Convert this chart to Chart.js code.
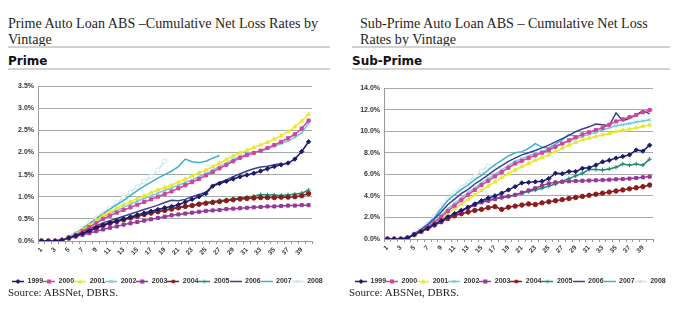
<!DOCTYPE html>
<html><head><meta charset="utf-8">
<script src="https://cdn.jsdelivr.net/npm/chart.js@4"></script>
<style>
html,body{margin:0;padding:0;background:#fff;}
body{width:684px;height:324px;position:relative;overflow:hidden;}
.t{position:absolute;top:15px;font-family:"Liberation Serif","Times New Roman",serif;font-size:14.1px;line-height:16px;color:#1e1e1e;white-space:nowrap;}
.rule{position:absolute;height:2px;background:#d2d2d2;}
.sub{position:absolute;top:54px;font-family:"DejaVu Sans",sans-serif;font-weight:bold;font-size:12px;line-height:14px;color:#111;}
.src{position:absolute;top:286px;font-family:"Liberation Serif",serif;font-size:11px;line-height:12px;color:#222;white-space:nowrap;}
.cv{position:absolute;top:76px;width:340px;height:219px;}
</style></head>
<body>
<div class="t" style="left:8px">Prime Auto Loan ABS –Cumulative Net Loss Rates by<br>Vintage</div>
<div class="t" style="left:360px">Sub-Prime Auto Loan ABS – Cumulative Net Loss<br>Rates by Vintage</div>
<div class="rule" style="left:8px;width:322px;top:46px"></div>
<div class="rule" style="left:352px;width:318px;top:46px"></div>
<div class="sub" style="left:8px">Prime</div>
<div class="sub" style="left:352px">Sub-Prime</div>
<div class="rule" style="left:8px;width:322px;top:68px"></div>
<div class="rule" style="left:352px;width:318px;top:68px"></div>
<canvas id="c1" class="cv" style="left:0px" width="340" height="219"></canvas>
<canvas id="c2" class="cv" style="left:342px" width="340" height="219"></canvas>
<div class="src" style="left:8px">Source: ABSNet, DBRS.</div>
<div class="src" style="left:349px">Source: ABSNet, DBRS.</div>
<script>
// ---- categories / labels ----
const months = ['1','2','3','4','5','6','7','8','9','10','11','12','13','14','15','16','17','18','19','20',
  '21','22','23','24','25','26','27','28','29','30','31','32','33','34','35','36','37','38','39','40'];
const xTickLabels = ['1','3','5','7','9','11','13','15','17','19','21','23','25','27','29','31','33','35','37','39'];
const vintages = ['1999','2000','2001','2002','2003','2004','2005','2006','2007','2008'];

// ---- Prime series (% cumulative net loss) ----
const prime1999 = [0,0,0,0.02,0.07,0.12,0.17,0.23,0.30,0.36,0.41,0.45,0.50,0.54,0.59,0.63,0.67,0.71,0.75,0.78,0.82,0.88,0.94,1.00,1.07,1.24,1.30,1.35,1.40,1.45,1.49,1.53,1.58,1.63,1.68,1.72,1.76,1.85,2.02,2.24];
const prime2000 = [0,0,0,0.02,0.07,0.14,0.22,0.31,0.40,0.50,0.57,0.64,0.70,0.76,0.82,0.88,0.94,1.00,1.06,1.12,1.19,1.26,1.33,1.40,1.48,1.56,1.64,1.72,1.80,1.88,1.94,1.99,2.04,2.10,2.17,2.24,2.32,2.41,2.54,2.72];
const prime2001 = [0,0,0,0.02,0.08,0.16,0.25,0.35,0.46,0.57,0.66,0.74,0.82,0.89,0.96,1.02,1.09,1.15,1.21,1.26,1.33,1.40,1.47,1.54,1.60,1.68,1.76,1.84,1.92,1.99,2.05,2.11,2.17,2.23,2.30,2.38,2.47,2.58,2.71,2.86];
const prime2002 = [0,0,0,0.02,0.08,0.15,0.24,0.34,0.44,0.55,0.62,0.69,0.76,0.83,0.90,0.96,1.02,1.08,1.14,1.20,1.26,1.32,1.38,1.45,1.52,1.60,1.68,1.76,1.84,1.91,1.96,2.00,2.04,2.08,2.14,2.20,2.26,2.34,2.44,2.66];
const prime2003 = [0,0,0,0.02,0.06,0.10,0.14,0.18,0.22,0.26,0.30,0.33,0.37,0.40,0.43,0.46,0.49,0.52,0.55,0.58,0.60,0.62,0.64,0.66,0.68,0.69,0.70,0.72,0.73,0.74,0.75,0.76,0.77,0.78,0.78,0.79,0.80,0.80,0.81,0.81];
const prime2004 = [0,0,0,0.02,0.07,0.12,0.17,0.23,0.29,0.35,0.40,0.44,0.48,0.52,0.56,0.60,0.63,0.66,0.69,0.72,0.75,0.78,0.80,0.83,0.85,0.87,0.89,0.91,0.93,0.95,0.96,0.97,0.98,0.98,0.98,0.99,0.99,1.00,1.02,1.07];
const prime2005 = [0,0,0,0.02,0.07,0.12,0.17,0.23,0.29,0.35,0.40,0.44,0.48,0.52,0.56,0.60,0.63,0.67,0.70,0.74,0.76,0.79,0.81,0.84,0.87,0.89,0.91,0.93,0.95,0.97,0.99,1.01,1.05,1.04,1.04,1.03,1.04,1.06,1.08,1.15];
const prime2006 = [0,0,0,0.02,0.08,0.14,0.20,0.27,0.34,0.41,0.46,0.51,0.56,0.61,0.66,0.71,0.76,0.81,0.87,0.92,0.91,0.94,1.00,1.05,1.10,1.25,1.32,1.38,1.45,1.52,1.58,1.63,1.67,1.69,1.72,1.75];
const prime2007 = [0,0,0,0.02,0.09,0.18,0.28,0.39,0.50,0.62,0.72,0.82,0.92,1.03,1.14,1.24,1.33,1.42,1.50,1.58,1.68,1.85,1.79,1.77,1.80,1.87,1.93];
const prime2008 = [0,0,0,0.02,0.09,0.18,0.28,0.39,0.51,0.63,0.74,0.86,0.98,1.10,1.22,1.34,1.46,1.60,1.80];

// ---- Sub-Prime series (% cumulative net loss) ----
const sub1999 = [0,0,0,0.1,0.4,0.7,1.0,1.35,1.7,2.05,2.35,2.65,2.95,3.25,3.55,3.8,4.0,4.25,4.55,4.85,5.2,5.25,5.3,5.35,5.6,6.1,6.05,6.25,6.25,6.55,6.6,6.85,7.15,7.3,7.5,7.65,7.8,8.25,8.15,8.7];
const sub2000 = [0,0,0,0.1,0.4,0.7,1.1,1.55,2.05,2.6,3.1,3.6,4.1,4.55,5.0,5.4,5.8,6.2,6.6,7.0,7.25,7.5,7.75,8.0,8.25,8.55,8.85,9.15,9.45,9.7,9.9,10.1,10.3,10.6,10.9,11.1,11.3,11.5,11.75,11.95];
const sub2001 = [0,0,0,0.1,0.35,0.65,1.0,1.4,1.9,2.4,2.8,3.2,3.65,4.1,4.5,4.9,5.3,5.7,6.05,6.4,6.7,7.0,7.3,7.55,7.8,8.1,8.4,8.7,8.95,9.2,9.35,9.5,9.65,9.8,9.95,10.1,10.2,10.3,10.45,10.57];
const sub2002 = [0,0,0,0.1,0.4,0.75,1.15,1.6,2.2,2.8,3.3,3.8,4.3,4.75,5.2,5.6,6.0,6.4,6.8,7.2,7.45,7.7,7.9,8.1,8.35,8.6,8.85,9.05,9.3,9.5,9.7,9.9,10.1,10.3,10.5,10.6,10.7,10.85,10.95,11.05];
const sub2003 = [0,0,0,0.1,0.4,0.7,1.0,1.3,1.65,2.0,2.3,2.6,2.9,3.15,3.4,3.55,3.7,3.85,3.95,4.08,4.3,4.5,4.7,4.95,5.15,5.25,5.3,5.35,5.38,5.4,5.42,5.44,5.46,5.5,5.53,5.56,5.6,5.65,5.72,5.78];
const sub2004 = [0,0,0,0.1,0.4,0.7,1.0,1.3,1.6,1.9,2.15,2.35,2.5,2.65,2.75,2.9,3.0,2.75,2.95,3.05,3.15,3.25,3.2,3.35,3.45,3.55,3.65,3.75,3.85,3.95,4.05,4.15,4.25,4.35,4.45,4.55,4.65,4.75,4.85,5.0];
const sub2005 = [0,0,0,0.1,0.4,0.7,1.0,1.3,1.65,2.0,2.3,2.6,2.9,3.2,3.45,3.6,3.75,3.85,3.95,4.1,4.25,4.4,4.55,4.7,4.9,5.1,5.35,5.6,5.85,6.1,6.45,6.45,6.4,6.5,6.65,6.95,6.85,6.95,6.85,7.4];
const sub2006 = [0,0,0,0.1,0.45,0.85,1.3,1.85,2.5,3.2,3.7,4.2,4.6,5.1,5.5,5.95,6.4,6.8,7.2,7.5,7.8,8.0,8.2,8.45,8.7,9.0,9.3,9.6,9.95,10.2,10.4,10.65,10.6,10.5,11.7,10.95,11.2,11.5,11.9,11.6];
const sub2007 = [0,0,0,0.1,0.5,0.9,1.4,2.0,2.8,3.6,4.1,4.6,5.0,5.5,5.9,6.4,6.9,7.3,7.7,8.0,8.1,8.4,8.85,8.5,8.45,8.8,9.2,9.7,9.5];
const sub2008 = [0,0,0,0.1,0.5,0.9,1.4,2.1,2.9,3.7,4.3,4.8,5.3,5.8,6.3,6.75];

const primeSeries = [prime1999,prime2000,prime2001,prime2002,prime2003,prime2004,prime2005,prime2006,prime2007,prime2008];
const subSeries = [sub1999,sub2000,sub2001,sub2002,sub2003,sub2004,sub2005,sub2006,sub2007,sub2008];

// ---- styles ----
const colors = ['#1b1b6b','#d2449e','#e8e82c','#72c8dc','#96399a','#8a1c1c','#1f8a6e','#3a3f8e','#3bb0d4','#cfe5ef'];
const markers = ['rectRot','rect','triangle','crossRot','rect','circle','cross',null,null,'circle'];

function legendIcon(color, style) {
  const w = 12, h = 7;
  const c = document.createElement('canvas'); c.width = w; c.height = h;
  const g = c.getContext('2d');
  g.strokeStyle = color; g.fillStyle = color; g.lineWidth = 1.5;
  g.beginPath(); g.moveTo(0, h/2); g.lineTo(w, h/2); g.stroke();
  const cx = w/2, cy = h/2, r = 2;
  g.lineWidth = 1;
  g.beginPath();
  if (style === 'rectRot') { g.moveTo(cx, cy-r-0.5); g.lineTo(cx+r+0.5, cy); g.lineTo(cx, cy+r+0.5); g.lineTo(cx-r-0.5, cy); g.closePath(); g.fill(); }
  else if (style === 'rect') { g.fillRect(cx-r, cy-r, 2*r, 2*r); }
  else if (style === 'triangle') { g.moveTo(cx, cy-r-0.5); g.lineTo(cx+r+0.5, cy+r); g.lineTo(cx-r-0.5, cy+r); g.closePath(); g.fill(); }
  else if (style === 'crossRot') { g.moveTo(cx-r, cy-r); g.lineTo(cx+r, cy+r); g.moveTo(cx+r, cy-r); g.lineTo(cx-r, cy+r); g.stroke(); }
  else if (style === 'circle') { g.arc(cx, cy, r, 0, Math.PI*2); g.fill(); }
  else if (style === 'cross') { g.moveTo(cx-r, cy); g.lineTo(cx+r, cy); g.moveTo(cx, cy-r); g.lineTo(cx, cy+r); g.stroke(); }
  return c;
}
const icons = colors.map((c, i) => legendIcon(c, markers[i]));

const tickFont = {family: '"Liberation Sans", Arial, sans-serif', size: 7, weight: 'bold'};

function build(id, series, yMax, yStep, pad, yW, y2W, xH) {
  new Chart(document.getElementById(id), {
    type: 'line',
    data: {
      labels: months,
      datasets: series.map((d, k) => ({
        label: vintages[k],
        data: d,
        borderColor: colors[k],
        backgroundColor: colors[k],
        pointBackgroundColor: k === 9 ? '#ffffff' : colors[k],
        pointBorderColor: colors[k],
        borderWidth: 1.5,
        pointStyle: markers[k] || 'circle',
        pointRadius: markers[k] ? 2.2 : 0,
        pointBorderWidth: 1,
        tension: 0,
        fill: false
      }))
    },
    options: {
      responsive: false,
      animation: false,
      devicePixelRatio: 1,
      layout: {padding: pad},
      plugins: {
        tooltip: {enabled: false},
        legend: {
          position: 'bottom',
          align: 'start',
          labels: {
            usePointStyle: true,
            pointStyleWidth: 12,
            boxHeight: 7,
            padding: 0,
            color: '#333',
            font: tickFont,
            generateLabels(chart) {
              return chart.data.datasets.map((ds, i) => ({
                text: ds.label, pointStyle: icons[i], datasetIndex: i, hidden: false,
                lineWidth: 0, strokeStyle: ds.borderColor, fillStyle: ds.borderColor, fontColor: '#333'
              }));
            }
          }
        }
      },
      scales: {
        x: {
          offset: true,
          grid: {display: true, drawOnChartArea: false, drawTicks: true, tickLength: 3, color: '#9a9a9a', offset: true},
          border: {display: true, color: '#9a9a9a'},
          ticks: {
            autoSkip: false, minRotation: 45, maxRotation: 45, padding: 2,
            font: {family: tickFont.family, size: 6.5, weight: 'bold'}, color: '#333',
            callback(v, i) { const l = months[i]; return xTickLabels.includes(l) ? l : ''; }
          },
          afterFit(s) { s.height = xH; }
        },
        y: {
          min: 0, max: yMax,
          ticks: {stepSize: yStep, padding: 4, color: '#333', font: tickFont, callback: v => v.toFixed(1) + '%'},
          grid: {color: '#a8a8a8', drawTicks: false},
          border: {display: true, color: '#9a9a9a'},
          afterFit(s) { s.width = yW; }
        },
        y2: {
          position: 'right', display: true,
          grid: {display: false}, border: {display: false}, ticks: {display: false},
          afterFit(s) { s.width = y2W; }
        }
      }
    }
  });
}

build('c1', primeSeries, 3.5, 0.5, {left: 12, top: 10, right: 0, bottom: 0}, 26, 28, 37);
build('c2', subSeries, 14, 2, {left: 13, top: 12, right: 0, bottom: 0}, 29, 29, 39);
</script>
</body></html>
